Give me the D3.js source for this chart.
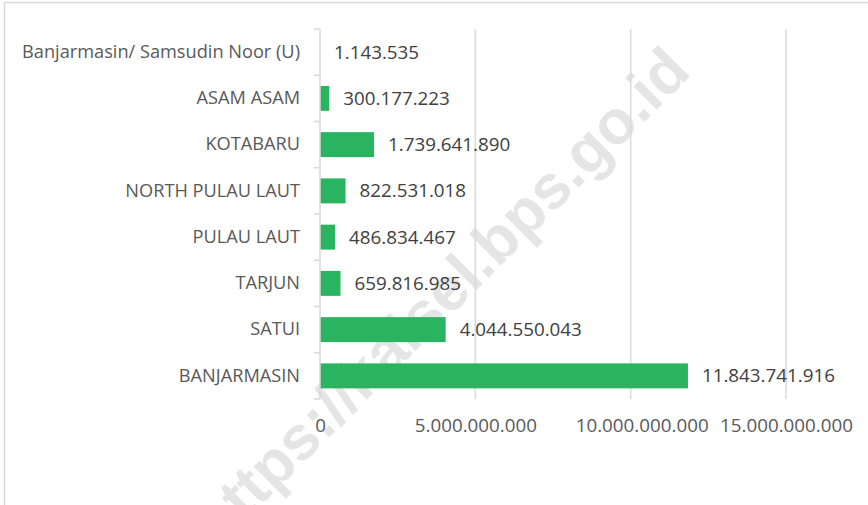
<!DOCTYPE html>
<html>
<head>
<meta charset="utf-8">
<script src="https://cdn.jsdelivr.net/npm/d3@7"></script>
<style>
  body { margin: 0; background: #fff; }
  svg { display: block; font-family: "Open Sans", "Noto Sans", sans-serif; }
</style>
</head>
<body>
<svg id="chart"></svg>
<script>
var categories = ["Banjarmasin/ Samsudin Noor (U)", "ASAM ASAM", "KOTABARU", "NORTH PULAU LAUT", "PULAU LAUT", "TARJUN", "SATUI", "BANJARMASIN"];
var values = [1143535, 300177223, 1739641890, 822531018, 486834467, 659816985, 4044550043, 11843741916];
var xTicks = [0, 5000000000, 10000000000, 15000000000];
var watermark = "https://kalsel.bps.go.id";

var width = 868, height = 505;
var margin = { top: 29, right: 82, bottom: 106, left: 320 };

var locale = d3.formatLocale({ decimal: ",", thousands: ".", grouping: [3], currency: ["", ""] });
var fmt = locale.format(",d");

var svg = d3.select("#chart").attr("width", width).attr("height", height);

// chart border (only top and left are inside the window)
svg.append("rect").attr("x", 4.5).attr("y", 2.5).attr("width", width + 10).attr("height", height + 10)
  .style("fill", "none").style("stroke", "#d9d9d9").style("stroke-width", 1.5);

// watermark under everything
svg.append("text").attr("transform", "translate(440,296) rotate(-45)")
  .attr("text-anchor", "middle").attr("dominant-baseline", "central")
  .style("font-family", "'Liberation Sans', Arial, sans-serif").style("font-weight", "bold")
  .style("font-size", "62px").style("fill", "#e5e5e5").text(watermark);

var x = d3.scaleLinear().domain([0, 15000000000]).range([margin.left, width - margin.right]);
var y = d3.scaleBand().domain(categories).range([margin.top, height - margin.bottom]).paddingInner(0.46).paddingOuter(0.23);

// gridlines
svg.append("g").selectAll("line").data(xTicks.slice(1)).enter().append("line")
  .attr("x1", function(d) { return x(d); }).attr("x2", function(d) { return x(d); })
  .attr("y1", margin.top).attr("y2", height - margin.bottom)
  .style("stroke", "#d9d9d9").style("stroke-width", 1.5);

// bars
svg.append("g").selectAll("rect").data(values).enter().append("rect")
  .attr("x", x(0)).attr("y", function(d, i) { return y(categories[i]); })
  .attr("width", function(d) { return x(d) - x(0); }).attr("height", y.bandwidth())
  .style("fill", "#2bb45f");

// category axis
var yAxis = d3.axisLeft(y).tickSize(0).tickPadding(20);
var ya = svg.append("g").attr("transform", "translate(" + x(0) + ",0)").call(yAxis).attr("font-family", null).attr("font-size", null);
ya.select(".domain").remove();
ya.selectAll("text").style("font-size", "18.2px").style("fill", "#595959");
var bounds = [margin.top].concat(categories.map(function(c) { return y(c) + y.bandwidth() + y.step() * 0.23; }));
bounds[bounds.length - 1] = height - margin.bottom;
svg.append("g").selectAll("line").data(bounds).enter().append("line")
  .attr("x1", x(0) - 6).attr("x2", x(0)).attr("y1", function(d) { return d; }).attr("y2", function(d) { return d; })
  .style("stroke", "#d9d9d9").style("stroke-width", 1.5);
svg.append("line").attr("x1", x(0)).attr("x2", x(0)).attr("y1", margin.top).attr("y2", height - margin.bottom)
  .style("stroke", "#d9d9d9").style("stroke-width", 1.5);

// value axis labels
var xAxis = d3.axisBottom(x).tickValues(xTicks).tickSize(0).tickPadding(20).tickFormat(fmt);
var xa = svg.append("g").attr("transform", "translate(0," + (height - margin.bottom) + ")").call(xAxis).attr("font-family", null).attr("font-size", null);
xa.select(".domain").remove();
xa.selectAll("text").style("font-size", "18.8px").style("fill", "#595959")
  .attr("dx", function(d) { return d === 10000000000 ? 11 : 0; });

// value labels
svg.append("g").selectAll("text").data(values).enter().append("text")
  .attr("x", function(d) { return x(d) + 14; })
  .attr("y", function(d, i) { return y(categories[i]) + y.bandwidth() / 2; })
  .attr("dy", "0.35em").style("font-size", "18.8px").style("fill", "#404040")
  .text(function(d) { return fmt(d); });
</script>
</body>
</html>
